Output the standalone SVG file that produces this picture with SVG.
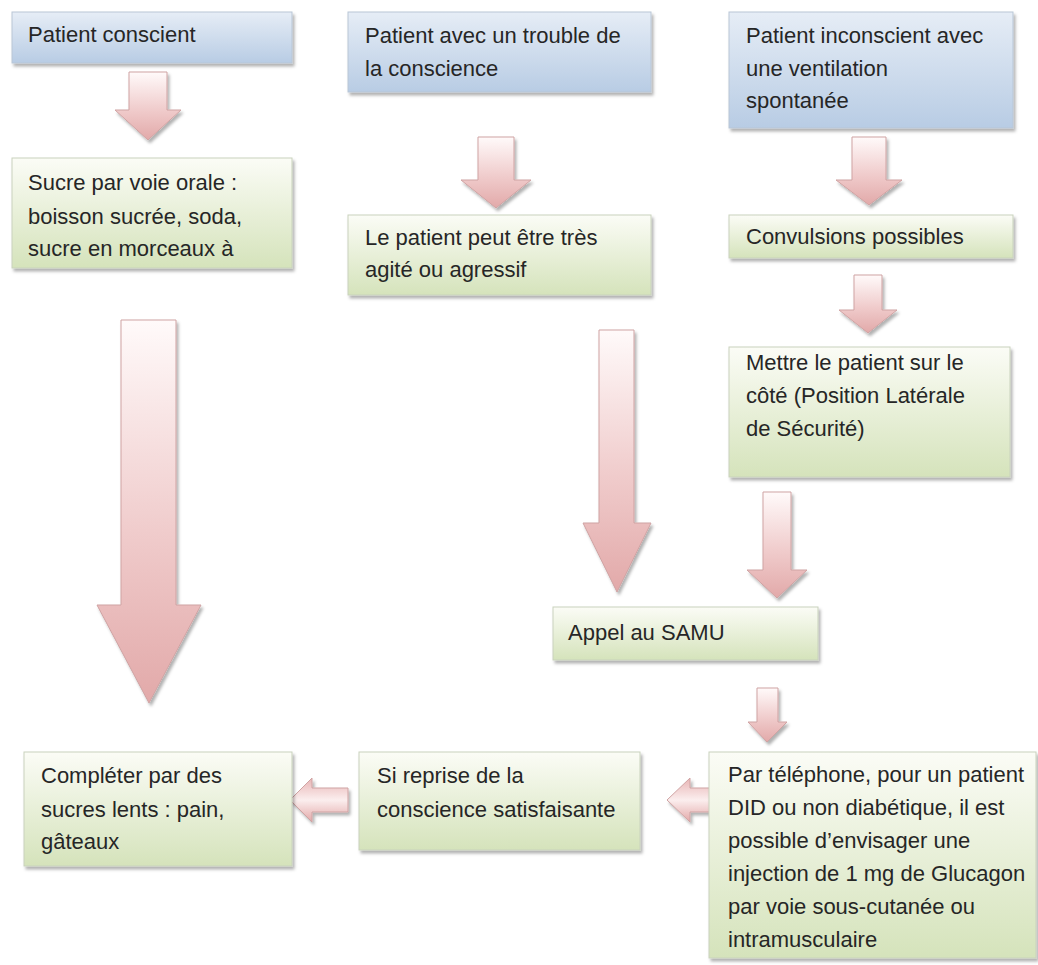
<svg xmlns="http://www.w3.org/2000/svg" width="1038" height="965" viewBox="0 0 1038 965">
<defs>
<linearGradient id="gBlue" x1="0" y1="0" x2="0" y2="1">
<stop offset="0" stop-color="#e6edf6"/>
<stop offset="1" stop-color="#b8cce4"/>
</linearGradient>
<linearGradient id="gGreen" x1="0" y1="0" x2="0" y2="1">
<stop offset="0" stop-color="#fbfcf6"/>
<stop offset="1" stop-color="#d5e3bb"/>
</linearGradient>
<linearGradient id="gDown" x1="0" y1="0" x2="0" y2="1">
<stop offset="0" stop-color="#fffafa"/>
<stop offset="0.55" stop-color="#f0cccc"/>
<stop offset="1" stop-color="#e2a9a9"/>
</linearGradient>
<linearGradient id="gLeft" x1="0" y1="0" x2="0" y2="1">
<stop offset="0" stop-color="#e8b4b4"/>
<stop offset="0.5" stop-color="#fbeeee"/>
<stop offset="1" stop-color="#e3a8a8"/>
</linearGradient>
<filter id="sh" x="-10%" y="-10%" width="125%" height="130%">
<feDropShadow dx="2" dy="3" stdDeviation="1.5" flood-color="#000" flood-opacity="0.3"/>
</filter>
</defs>
<style>
.blue{fill:url(#gBlue);stroke:#b9c6d6;stroke-width:1;filter:url(#sh)}
.green{fill:url(#gGreen);stroke:#c9d2bd;stroke-width:1;filter:url(#sh)}
.arr{fill:url(#gDown);stroke:#cfa3a3;stroke-width:1;filter:url(#sh)}
.arrL{fill:url(#gLeft);stroke:#cfa3a3;stroke-width:1;filter:url(#sh)}
text{font-family:"Liberation Sans",Arial,sans-serif;font-size:22px;fill:#262626}
</style>
<rect width="1038" height="965" fill="#fff"/>
<g id="connectors">
<path class="arr" d="M129 72H167V110H181L148 140L115 110H129Z"/>
<path class="arr" d="M121 320H176V605H201L149 703L97 605H121Z"/>
<path class="arr" d="M478 137H514V180H531L496 208L461 180H478Z"/>
<path class="arr" d="M599 330H634V523H651L617 592L583 523H599Z"/>
<path class="arr" d="M852 137H886V180H902L869 205L836 180H852Z"/>
<path class="arr" d="M854 275H882V310H897L868 333L839 310H854Z"/>
<path class="arr" d="M763 492H791V570H807L777 598L747 570H763Z"/>
<path class="arr" d="M757 688H778V722H787L767 742L748 722H757Z"/>
<path class="arrL" d="M348 788V812H312V822L290 800L312 778V788Z"/>
<path class="arrL" d="M720 788V812H690V822L667 800L690 778V788Z"/>
</g>
<g id="n1">
<rect class="blue" x="12" y="12" width="280" height="51"/>
<text x="28" y="42">Patient conscient</text>
</g>
<g id="n2">
<rect class="blue" x="348" y="12" width="303" height="80"/>
<text x="365" y="43">Patient avec un trouble de</text>
<text x="365" y="76">la conscience</text>
</g>
<g id="n3">
<rect class="blue" x="729" y="12" width="284" height="116"/>
<text x="746" y="43">Patient inconscient avec</text>
<text x="746" y="76">une ventilation</text>
<text x="746" y="108">spontanée</text>
</g>
<g id="n4">
<rect class="green" x="12" y="158" width="280" height="110"/>
<text x="28" y="190">Sucre par voie orale :</text>
<text x="28" y="224">boisson sucrée, soda,</text>
<text x="28" y="256">sucre en morceaux à</text>
</g>
<g id="n5">
<rect class="green" x="348" y="215" width="303" height="80"/>
<text x="365" y="245">Le patient peut être très</text>
<text x="365" y="277">agité ou agressif</text>
</g>
<g id="n6">
<rect class="green" x="729" y="215" width="284" height="43"/>
<text x="746" y="244">Convulsions possibles</text>
</g>
<g id="n7">
<rect class="green" x="729" y="347" width="281" height="130"/>
<text x="746" y="370">Mettre le patient sur le</text>
<text x="746" y="403">côté (Position Latérale</text>
<text x="746" y="436">de Sécurité)</text>
</g>
<g id="n8">
<rect class="green" x="553" y="607" width="265" height="53"/>
<text x="568" y="640">Appel au SAMU</text>
</g>
<g id="n9">
<rect class="green" x="24" y="752" width="268" height="114"/>
<text x="41" y="783">Compléter par des</text>
<text x="41" y="817">sucres lents : pain,</text>
<text x="41" y="849">gâteaux</text>
</g>
<g id="n10">
<rect class="green" x="359" y="752" width="281" height="98"/>
<text x="377" y="783">Si reprise de la</text>
<text x="377" y="817">conscience satisfaisante</text>
</g>
<g id="n11">
<rect class="green" x="709" y="752" width="327" height="206"/>
<text x="728" y="782">Par téléphone, pour un patient</text>
<text x="728" y="815">DID ou non diabétique, il est</text>
<text x="728" y="848">possible d’envisager une</text>
<text x="728" y="881">injection de 1 mg de Glucagon</text>
<text x="728" y="914">par voie sous-cutanée ou</text>
<text x="728" y="947">intramusculaire</text>
</g>
</svg>
